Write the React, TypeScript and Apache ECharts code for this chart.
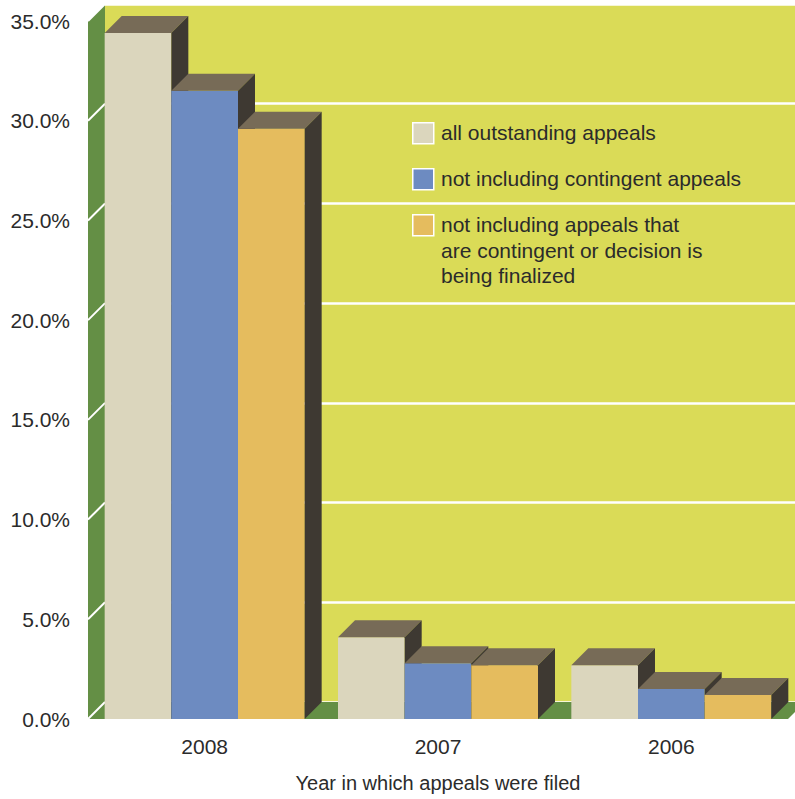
import React, { useEffect, useRef } from "react";
import * as echarts from "echarts";

const categories = ["2008", "2007", "2006"];
const seriesNames = [
  "all outstanding appeals",
  "not including contingent appeals",
  "not including appeals that\nare contingent or decision is\nbeing finalized",
];
const allOutstanding = [34.4, 4.1, 2.7];
const notContingent = [31.5, 2.8, 1.5];
const notContingentOrFinalizing = [29.6, 2.7, 1.2];
const yTicks = [0, 5, 10, 15, 20, 25, 30, 35];
const xAxisTitle = "Year in which appeals were filed";

const seriesValues = [allOutstanding, notContingent, notContingentOrFinalizing];
const frontColors = ["#dbd6bd", "#6d8bc1", "#e5bc5e"];
const topColor = "#776b57";
const sideColor = "#3e3932";
const wallColor = "#dadb57";
const greenColor = "#648f45";
const textColor = "#2b2b2b";
const FONT = "'Liberation Sans', Arial, sans-serif";
const DEPTH = 17;

export default function App() {
  const ref = useRef<HTMLDivElement>(null);
  useEffect(() => {
    document.body.style.margin = "0";
    const chart = echarts.init(ref.current!, null, { renderer: "svg" });

    const wallSeries = {
      type: "custom",
      xAxisIndex: 0,
      yAxisIndex: 0,
      silent: true,
      data: [[0, 0]],
      z: 1,
      renderItem: (params: any, api: any) => {
        const cs = params.coordSys;
        const x0 = cs.x;
        const x1 = cs.x + cs.width;
        const yTop = cs.y;
        const yBot = cs.y + cs.height;
        const children: any[] = [];
        // left side wall
        children.push({
          type: "polygon",
          shape: {
            points: [
              [x0, yTop],
              [x0 + DEPTH, yTop - DEPTH],
              [x0 + DEPTH, yBot - DEPTH],
              [x0, yBot],
            ],
          },
          style: { fill: greenColor },
        });
        // floor
        children.push({
          type: "polygon",
          shape: {
            points: [
              [x0, yBot],
              [x0 + DEPTH, yBot - DEPTH],
              [x1 + DEPTH, yBot - DEPTH],
              [x1, yBot],
            ],
          },
          style: { fill: greenColor },
        });
        yTicks.forEach((t) => {
          const y = api.coord([0, t])[1];
          children.push({
            type: "line",
            shape: { x1: x0, y1: y, x2: x0 + DEPTH, y2: y - DEPTH },
            style: { stroke: "#ffffff", lineWidth: 2 },
          });
        });
        return { type: "group", children };
      },
    };

    const barSeries = seriesValues.map((vals, si) => ({
      type: "custom",
      name: seriesNames[si],
      xAxisIndex: 0,
      yAxisIndex: 0,
      z: 3,
      encode: { x: 0, y: 1 },
      data: categories.map((_, i) => [i, vals[i]]),
      renderItem: (params: any, api: any) => {
        const cat = api.value(0);
        const val = api.value(1);
        const top = api.coord([cat, val]);
        const base = api.coord([cat, 0]);
        const band = api.size([1, 0])[0];
        const w = (band * 2) / 7;
        const xl = top[0] - 1.5 * w + si * w;
        const xr = xl + w;
        const yt = top[1];
        const yb = base[1];
        return {
          type: "group",
          children: [
            {
              type: "rect",
              shape: { x: xl, y: yt, width: w, height: yb - yt },
              style: { fill: frontColors[si] },
            },
            {
              type: "polygon",
              shape: {
                points: [
                  [xl, yt],
                  [xl + DEPTH, yt - DEPTH],
                  [xr + DEPTH, yt - DEPTH],
                  [xr, yt],
                ],
              },
              style: { fill: topColor },
            },
            {
              type: "polygon",
              shape: {
                points: [
                  [xr, yt],
                  [xr + DEPTH, yt - DEPTH],
                  [xr + DEPTH, yb - DEPTH],
                  [xr, yb],
                ],
              },
              style: { fill: sideColor },
            },
          ],
        };
      },
    }));

    const legendTops = [122, 168, 214];
    const legendGraphics: any[] = [];
    seriesNames.forEach((name, i) => {
      legendGraphics.push({
        type: "rect",
        left: 412,
        top: legendTops[i],
        shape: { x: 0, y: 0, width: 21, height: 21 },
        style: { fill: frontColors[i], stroke: "#ffffff", lineWidth: 1.5 },
        z: 10,
      });
      legendGraphics.push({
        type: "text",
        x: 441,
        y: legendTops[i] + 10.5 - 12.5,
        style: {
          text: name,
          font: `21px ${FONT}`,
          fill: textColor,
          lineHeight: 25.5,
          verticalAlign: "top",
        },
        z: 10,
      });
    });

    chart.setOption({
      animation: false,
      backgroundColor: "#ffffff",
      grid: [
        { left: 88, top: 21, width: 700, height: 698, containLabel: false },
        {
          left: 88 + DEPTH,
          top: 21 - DEPTH,
          width: 700,
          height: 698,
          show: true,
          backgroundColor: wallColor,
          borderWidth: 0,
        },
      ],
      xAxis: [
        {
          type: "category",
          gridIndex: 0,
          data: categories,
          axisLine: { show: false },
          axisTick: { show: false },
          axisLabel: {
            color: textColor,
            fontSize: 21,
            fontFamily: FONT,
            margin: 17,
          },
          name: xAxisTitle,
          nameLocation: "middle",
          nameGap: 54,
          nameTextStyle: { color: textColor, fontSize: 20, fontFamily: FONT },
        },
        {
          type: "category",
          gridIndex: 1,
          data: categories,
          show: false,
        },
      ],
      yAxis: [
        {
          type: "value",
          gridIndex: 0,
          min: 0,
          max: 35,
          interval: 5,
          axisLine: { show: false },
          axisTick: { show: false },
          splitLine: { show: false },
          axisLabel: {
            color: textColor,
            fontSize: 21,
            fontFamily: FONT,
            margin: 18,
            formatter: (v: number) => `${v.toFixed(1)}%`,
          },
        },
        {
          type: "value",
          gridIndex: 1,
          min: 0,
          max: 35,
          interval: 5,
          axisLine: { show: false },
          axisTick: { show: false },
          axisLabel: { show: false },
          splitLine: { show: true, lineStyle: { color: "#ffffff", width: 2.5 } },
        },
      ],
      series: [wallSeries, ...barSeries],
      graphic: legendGraphics,
    });

    return () => chart.dispose();
  }, []);
  return <div ref={ref} style={{ width: 795, height: 799 }} />;
}
